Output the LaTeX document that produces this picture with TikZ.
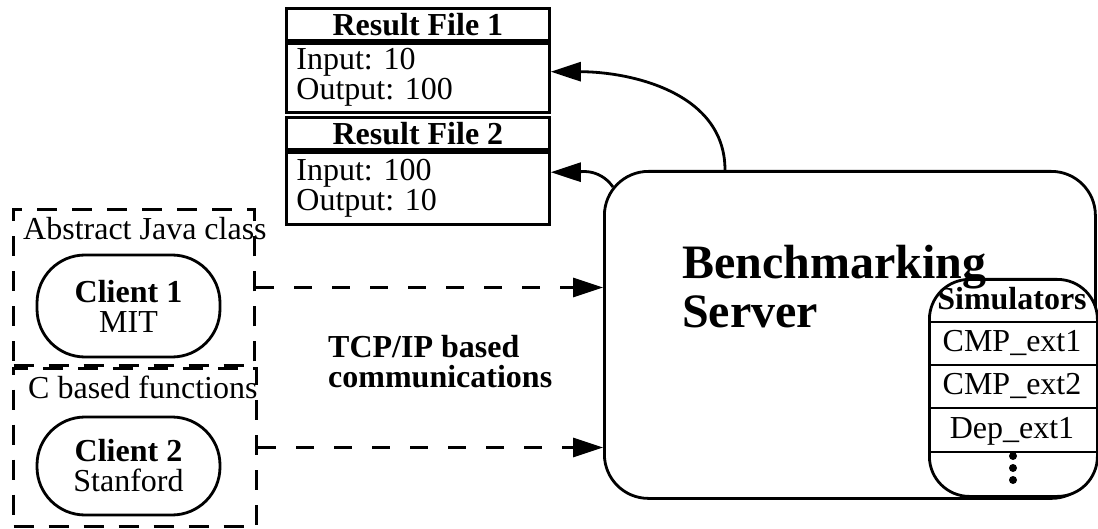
\documentclass[tikz,border=0pt]{standalone}
\usepackage{fontspec}
\setmainfont{Liberation Serif}
\usepackage{tikz}
\usetikzlibrary{arrows.meta,positioning}
\frenchspacing
\newcommand\bigfont{\fontsize{48}{49}\selectfont}
\newcommand\txtfont{\fontsize{32}{30}\selectfont}
\tikzset{
  resbox/.style={draw,line width=2.8pt,minimum width=263pt,inner sep=0pt},
  clientbox/.style={draw,line width=2.8pt,rounded corners=48pt,minimum width=183pt,align=center},
  groupbox/.style={draw,line width=3pt,dash pattern=on 20pt off 15pt,inner sep=0pt},
  lbl/.style={inner sep=0pt},
  headarrow/.style={-{Triangle[length=30pt,width=19pt]}},
}

\begin{document}
\begin{tikzpicture}[x=1pt,y=-1pt,font=\txtfont]
  \useasboundingbox (0,0) rectangle (1098,529);

  \node[resbox,minimum height=32pt,anchor=north west] (rf1) at (285,7) {\textbf{Result File 1}};
  \node[resbox,minimum height=69pt,below=0pt of rf1,align=left,text width=243pt] (rf1body) {Input: 10\\Output: 100};
  \node[resbox,minimum height=32pt,anchor=north west] (rf2) at (285,116) {\textbf{Result File 2}};
  \node[resbox,minimum height=72pt,below=0pt of rf2,align=left,text width=243pt] (rf2body) {Input: 100\\Output: 10};

  \node[groupbox,minimum width=241pt,minimum height=156pt,anchor=north west] (javagrp) at (12,208) {};
  \node[groupbox,minimum width=243pt,minimum height=158pt,anchor=north west] (cgrp) at (12,367) {};
  \node[lbl,anchor=base west] (javalbl) at (23,240) {Abstract Java class};
  \node[lbl,anchor=base west] (clbl) at (28,398) {C based functions};

  \node[clientbox,minimum height=102pt] (c1) at (128.5,306) {\textbf{Client 1}\\MIT};
  \node[clientbox,minimum height=98pt] (c2) at (128.5,466) {\textbf{Client 2}\\Stanford};

  \node[draw,line width=2.8pt,rounded corners=44pt,minimum width=491pt,minimum height=327pt,anchor=north west] (server) at (603,170) {};

  \node[draw,fill=white,line width=2.8pt,rounded corners=40pt,minimum width=168pt,minimum height=217pt,anchor=north west] (sims) at (928,278) {};
  \node[lbl,anchor=base] (simhead) at (1012,310) {\textbf{Simulators}};
  \foreach \y/\t/\n in {352/CMP\_ext1/s1,395/CMP\_ext2/s2,438/Dep\_ext1/s3}
    \node[lbl,anchor=base] (\n) at (1012,\y) {\t};
  \foreach \y in {322,365,408,452}
    \draw[line width=2.2pt] (929,\y) -- (1096,\y);
  \foreach \y in {456,468,480}
    \fill (1013,\y) circle (4pt);

  \node[lbl,anchor=north west,align=left,font=\bigfont\bfseries] (srvlabel) at (682,245) {Benchmarking\\Server};

  \node[lbl,anchor=base west,align=left,font=\txtfont\bfseries] (tcp) at (328,387) {TCP/IP based\\communications};

  \draw[line width=3pt,dash pattern=on 18pt off 20pt,headarrow] (javagrp.east) -- (javagrp.east -| server.west);
  \draw[line width=3pt,dash pattern=on 18pt off 20pt,headarrow] (cgrp.east) -- (cgrp.east -| server.west);

  \coordinate (up1) at (725,170);
  \coordinate (up2) at (613,187);
  \draw[line width=2.8pt,headarrow] (up1) to[out=90,in=0] ([yshift=6pt]rf1body.east);
  \draw[line width=2.8pt,headarrow] (up2) to[out=125,in=0] ([yshift=16pt]rf2body.east);
\end{tikzpicture}
\end{document}
